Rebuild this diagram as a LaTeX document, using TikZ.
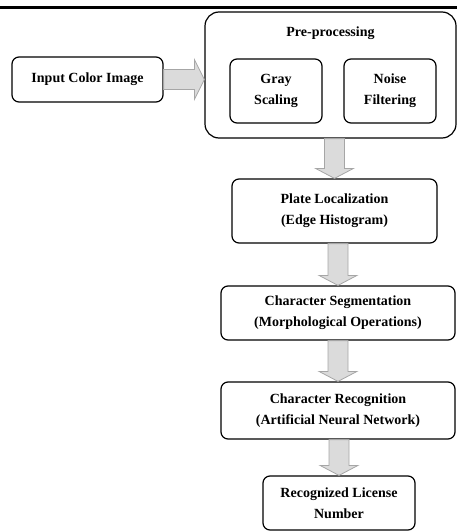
\documentclass[tikz,border=0pt]{standalone}
\usepackage{fontspec}
\setmainfont{Liberation Serif}
\usetikzlibrary{calc}

\tikzset{
  stagebox/.style={draw, line width=1.2pt, rounded corners=7pt, align=center,
    font=\bfseries\fontsize{14}{21}\selectfont, inner sep=2pt},
  arrowbody/.style={fill=gray!28, draw=gray!70, line width=0.8pt},
}

% fat arrow going down from one box to the next
\newcommand{\arrowdown}[2]{%
  \filldraw[arrowbody] let \p1=(#1.south), \p2=(#2.north) in
    (\x2-10pt,\y1) -- (\x2-10pt,\y2+10pt) -- (\x2-19pt,\y2+10pt) -- (\x2,\y2)
    -- (\x2+19pt,\y2+10pt) -- (\x2+10pt,\y2+10pt) -- (\x2+10pt,\y1) -- cycle;}

% fat arrow going right
\newcommand{\arrowright}[2]{%
  \filldraw[arrowbody] let \p1=(#1.east), \p2=(#2.west) in
    (\x1,\y1+10pt) -- (\x2-10pt,\y1+10pt) -- (\x2-10pt,\y1+20pt) -- (\x2,\y1)
    -- (\x2-10pt,\y1-20pt) -- (\x2-10pt,\y1-10pt) -- (\x1,\y1-10pt) -- cycle;}

\begin{document}
\begin{tikzpicture}[x=1pt, y=-1pt]
  \useasboundingbox (0,0) rectangle (457,532);

  % rule at the top
  \fill (0,6) rectangle (457,9.5);

  % pre-processing block
  \node[stagebox, rounded corners=14pt, minimum width=251pt, minimum height=126pt] (pre) at (330.5,75) {};
  \node[font=\bfseries\fontsize{14}{21}\selectfont] (pretitle) at (330.5,33) {Pre-processing};
  \node[stagebox, minimum width=92pt, minimum height=64pt] (gray) at (276,91) {Gray\\Scaling};
  \node[stagebox, minimum width=92pt, minimum height=64pt] (noise) at (390,91) {Noise\\Filtering};

  % input
  \node[stagebox, minimum width=151pt, minimum height=45pt] (input) at (87.5,79.5) {Input Color Image};

  % stages
  \node[stagebox, minimum width=205pt, minimum height=64pt] (plate) at (334.5,211) {Plate Localization\\(Edge Histogram)};
  \node[stagebox, minimum width=234pt, minimum height=54pt] (segment) at (338,313) {Character Segmentation\\(Morphological Operations)};
  \node[stagebox, minimum width=234pt, minimum height=57pt] (recog) at (338,410.5) {Character Recognition\\(Artificial Neural Network)};
  \node[stagebox, minimum width=152pt, minimum height=54pt] (result) at (339,503) {Recognized License\\Number};

  % arrows
  \arrowright{input}{pre}
  \arrowdown{pre}{plate}
  \arrowdown{plate}{segment}
  \arrowdown{segment}{recog}
  \arrowdown{recog}{result}

\end{tikzpicture}
\end{document}
